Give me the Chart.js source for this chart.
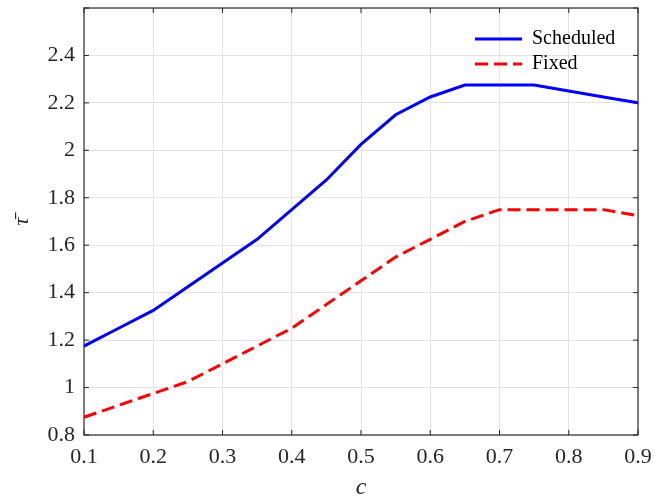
<!DOCTYPE html>
<html>
<head>
<meta charset="utf-8">
<script src="https://cdn.jsdelivr.net/npm/chart.js@4.4.1/dist/chart.umd.min.js"></script>
<style>
  html, body { margin: 0; padding: 0; background: #fff; }
  #wrap { width: 655px; height: 502px; }
</style>
</head>
<body>
<div id="wrap"><canvas id="chart" width="655" height="502"></canvas></div>
<script>
// values
var cValues = [0.1, 0.15, 0.2, 0.25, 0.3, 0.35, 0.4, 0.45, 0.5, 0.55, 0.6, 0.65, 0.7, 0.75, 0.8, 0.85, 0.9];
var scheduled = [1.175, 1.25, 1.325, 1.425, 1.525, 1.625, 1.75, 1.875, 2.025, 2.15, 2.225, 2.275, 2.275, 2.275, 2.25, 2.225, 2.2];
var fixed = [0.875, 0.925, 0.975, 1.025, 1.1, 1.175, 1.25, 1.35, 1.45, 1.55, 1.625, 1.7, 1.75, 1.75, 1.75, 1.75, 1.725];
var seriesNames = ['Scheduled', 'Fixed'];

var textColor = '#262626';
var serif = "'Liberation Serif', 'DejaVu Serif', serif";

function toPoints(ys) {
	return cValues.map(function (c, i) { return { x: c, y: ys[i] }; });
}

// no extra room for half tick labels, the layout padding handles it
function noLabelPadding(scale) {
	scale.paddingLeft = 0;
	scale.paddingRight = 0;
	scale.paddingTop = 0;
	scale.paddingBottom = 0;
}

// box round the plot with small inward ticks, like the original
var boxPlugin = {
	id: 'box',
	beforeDatasetsDraw: function (chart) {
		var ctx = chart.ctx;
		var a = chart.chartArea;
		var xs = chart.scales.x, ys = chart.scales.y;
		ctx.save();
		ctx.strokeStyle = '#555555';
		ctx.lineWidth = 1.5;
		ctx.strokeRect(a.left, a.top, a.right - a.left, a.bottom - a.top);
		ctx.lineWidth = 1;
		ctx.strokeStyle = textColor;
		ctx.beginPath();
		xs.ticks.forEach(function (t) {
			var px = xs.getPixelForValue(t.value);
			ctx.moveTo(px, a.bottom); ctx.lineTo(px, a.bottom - 5);
			ctx.moveTo(px, a.top); ctx.lineTo(px, a.top + 5);
		});
		ys.ticks.forEach(function (t) {
			var py = ys.getPixelForValue(t.value);
			ctx.moveTo(a.left, py); ctx.lineTo(a.left + 5, py);
			ctx.moveTo(a.right, py); ctx.lineTo(a.right - 5, py);
		});
		ctx.stroke();
		ctx.restore();
	},
	beforeDraw: function (chart) {
		// move the legend to the upper right of the plot
		var lg = chart.legend;
		if (!lg) {
			return;
		}
		var w = lg.width, h = lg.height;
		lg.left = 470;
		lg.right = lg.left + w;
		lg.top = 24;
		lg.bottom = lg.top + h;
	}
};

new Chart(document.getElementById('chart'), {
	type: 'line',
	data: {
		datasets: [
			{
				label: seriesNames[0],
				data: toPoints(scheduled),
				borderColor: '#0000ff',
				backgroundColor: '#0000ff',
				borderWidth: 3,
				pointRadius: 0,
				tension: 0
			},
			{
				label: seriesNames[1],
				data: toPoints(fixed),
				borderColor: '#ff0000',
				backgroundColor: '#ff0000',
				borderWidth: 3,
				borderDash: [13, 6],
				pointRadius: 0,
				tension: 0
			}
		]
	},
	options: {
		responsive: false,
		animation: false,
		layout: {
			padding: { left: 0, right: 17, top: 8, bottom: 0 }
		},
		plugins: {
			tooltip: { enabled: false },
			legend: {
				position: 'chartArea',
				align: 'start',
				labels: {
					usePointStyle: true,
					pointStyle: 'line',
					pointStyleWidth: 47,
					padding: 5,
					color: '#000',
					font: { family: serif, size: 20 },
					generateLabels: function (chart) {
						var items = Chart.defaults.plugins.legend.labels.generateLabels(chart);
						items.forEach(function (it) {
							var ds = chart.data.datasets[it.datasetIndex];
							it.lineDash = ds.borderDash || [];
							it.lineWidth = ds.borderWidth;
							it.strokeStyle = ds.borderColor;
						});
						return items;
					}
				}
			}
		},
		scales: {
			x: {
				type: 'linear',
				min: 0.1,
				max: 0.9,
				ticks: {
					stepSize: 0.1,
					padding: 9,
					color: textColor,
					font: { family: serif, size: 22 },
					callback: function (v) { return v.toFixed(1); }
				},
				grid: { color: '#e3e3e3', drawTicks: false },
				border: { display: false },
				title: {
					display: true,
					text: 'c',
					color: textColor,
					padding: 0,
					font: { family: serif, size: 24, style: 'italic' }
				},
				afterFit: function (scale) {
					scale.height = 67;
					noLabelPadding(scale);
				}
			},
			y: {
				min: 0.8,
				max: 2.6,
				ticks: {
					stepSize: 0.2,
					padding: 9,
					color: textColor,
					font: { family: serif, size: 22 },
					callback: function (v) {
						if (v > 2.5) {
							return '';
						}
						return String(+v.toFixed(1));
					}
				},
				grid: { color: '#e3e3e3', drawTicks: false },
				border: { display: false },
				title: {
					display: true,
					text: 'τ̄',
					color: textColor,
					padding: { top: 9, bottom: 0 },
					font: { family: serif, size: 22, style: 'italic' }
				},
				afterFit: function (scale) {
					scale.width = 84;
					noLabelPadding(scale);
				}
			}
		}
	},
	plugins: [boxPlugin]
});
</script>
</body>
</html>
